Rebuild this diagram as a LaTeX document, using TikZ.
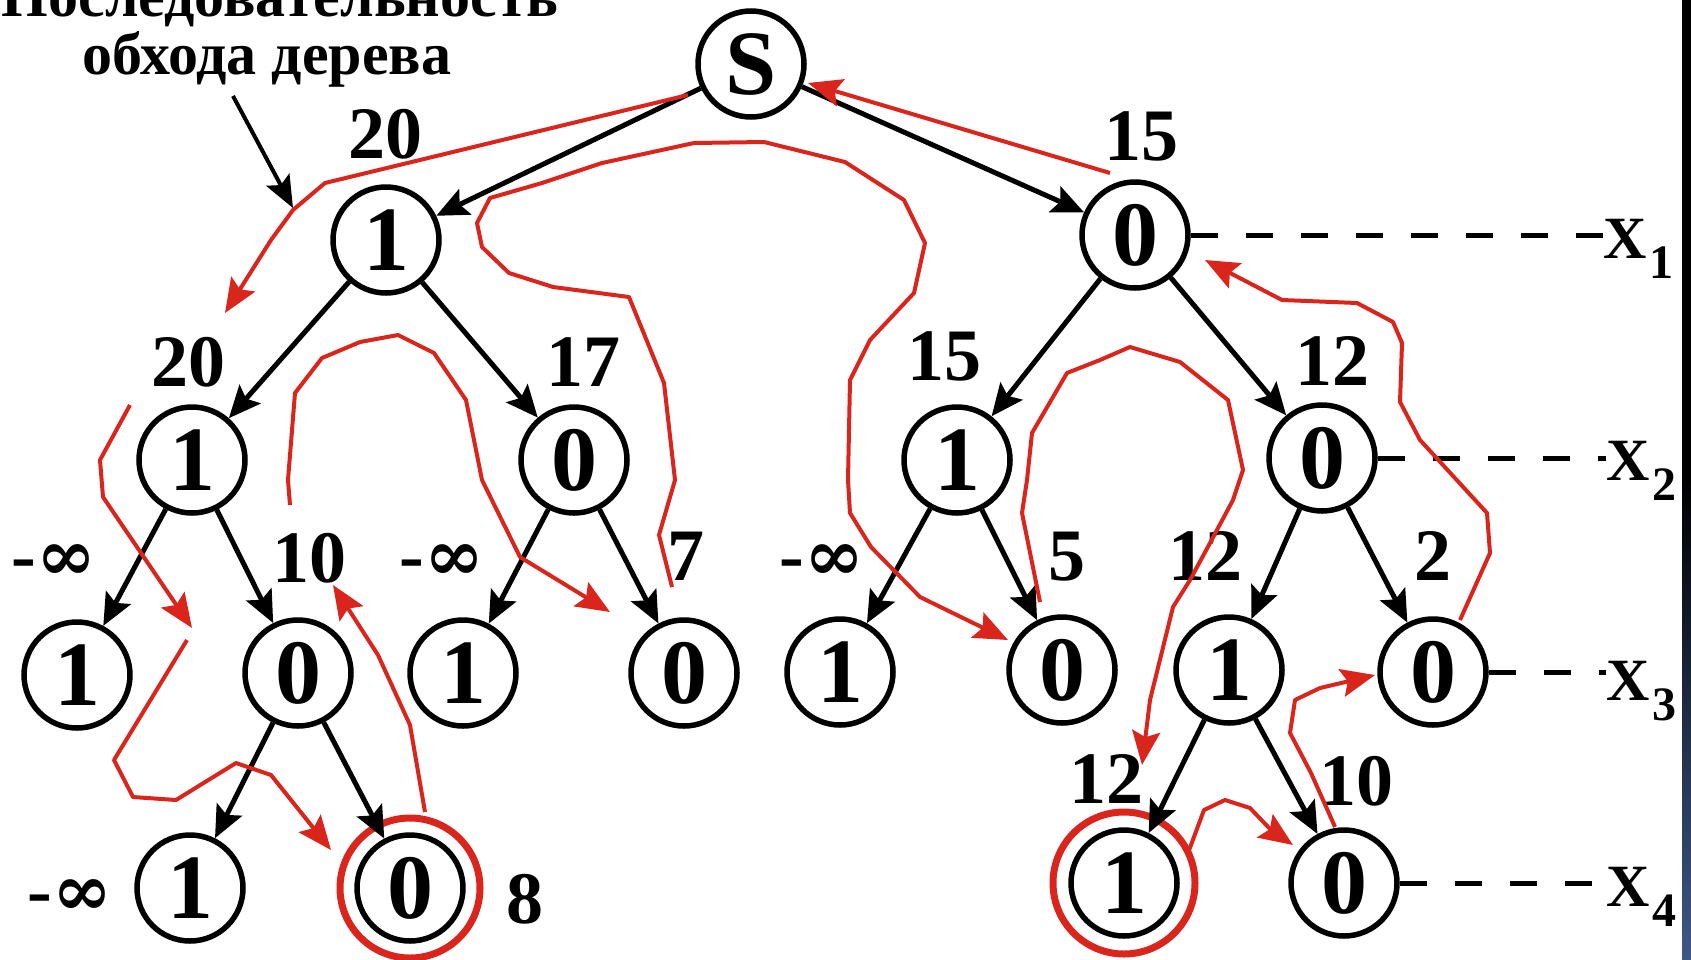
\documentclass[tikz,border=0pt]{standalone}
\usepackage{fontspec}
\setmainfont{Liberation Serif}
\newfontfamily\lemnfont{DejaVu Serif}
\usetikzlibrary{arrows.meta}

\definecolor{tracered}{RGB}{218,37,29}
\definecolor{barblue}{RGB}{62,88,135}

\newcommand{\minf}{-{\lemnfont\fontsize{72}{72}\selectfont ∞}}

\begin{document}
\begin{tikzpicture}[x=1pt, y=-1pt,
    vertex/.style={
        circle, draw,
        line width=5.5pt,
        minimum size=106pt,
        inner sep=0pt,
        font=\fontsize{92}{92}\selectfont\bfseries
    },
    branch/.style={
        line width=5pt,
        -{Stealth[length=32pt,width=28pt,inset=6pt]}
    },
    weight/.style={
        anchor=base,
        inner sep=0pt,
        font=\fontsize{74}{74}\selectfont\bfseries
    },
    trace/.style={
        draw=tracered,
        line width=4pt,
        line join=round,
        -{Stealth[length=34pt,width=28pt,inset=6pt]}
    },
    ring/.style={
        draw=tracered,
        line width=7pt
    },
    levelline/.style={
        line width=5pt,
        dash pattern=on 27pt off 28pt
    },
    varlabel/.style={
        anchor=base west,
        inner sep=0pt,
        font=\fontsize{60}{60}\selectfont\bfseries
    },
    caption/.style={
        anchor=base,
        inner sep=0pt,
        font=\fontsize{60}{60}\selectfont\bfseries
    },
    pointer/.style={
        line width=4pt,
        -{Stealth[length=32pt,width=26pt,inset=6pt]}
    }
]

%%%%%%%%%%%%%%%%%%%%%%%%
% Marco y barra lateral
%%%%%%%%%%%%%%%%%%%%%%%%
\useasboundingbox (0,0) rectangle (1691,959);
\clip (0,0) rectangle (1691,959);
\fill[black] (1682,0) rectangle (1691,480);
\shade[top color=black, bottom color=barblue] (1682,480) rectangle (1691,959);

%%%%%%%%%%%%%%%%%%%%%%%%
% Leyenda
%%%%%%%%%%%%%%%%%%%%%%%%
\node[caption] (cap1) at (280,16) {Последовательность};
\node[caption] (cap2) at (267,74) {обхода дерева};
\coordinate (ptr) at (293,208);
\draw[pointer] ([xshift=-34pt,yshift=-9pt]cap2.south) -- (ptr);

%%%%%%%%%%%%%%%%%%%%%%%%
% Nodos del arbol
%%%%%%%%%%%%%%%%%%%%%%%%

% --- Raiz ---
\node[vertex] (root) at (751,64) {S};

% --- Nivel 1 ---
\node[vertex] (l) at (386,240) {1};
\node[vertex] (r) at (1135,235) {0};

% --- Nivel 2 ---
\node[vertex] (ll) at (192,460) {1};
\node[vertex] (lr) at (574,460) {0};
\node[vertex] (rl) at (957,460) {1};
\node[vertex] (rr) at (1322,458) {0};

% --- Nivel 3 ---
\node[vertex] (lll) at (77,675) {1};
\node[vertex] (llr) at (298,673) {0};
\node[vertex] (lrl) at (463,673) {1};
\node[vertex] (lrr) at (684,673) {0};
\node[vertex] (rll) at (840,672) {1};
\node[vertex] (rlr) at (1062,670) {0};
\node[vertex] (rrl) at (1229,670) {1};
\node[vertex] (rrr) at (1433,672) {0};

% --- Nivel 4 ---
\node[vertex] (llrl) at (190,888) {1};
\node[vertex] (llrr) at (410,888) {0};
\node[vertex] (rrll) at (1124,883) {1};
\node[vertex] (rrlr) at (1344,883) {0};

% Soluciones encontradas
\draw[ring] (llrr) circle[radius=70pt];
\draw[ring] (rrll) circle[radius=71pt];

%%%%%%%%%%%%%%%%%%%%%%%%
% Ramas
%%%%%%%%%%%%%%%%%%%%%%%%
\draw[branch] (root) -- (l);
\draw[branch] (root) -- (r);
\draw[branch] (l) -- (ll);
\draw[branch] (l) -- (lr);
\draw[branch] (r) -- (rl);
\draw[branch] (r) -- (rr);
\draw[branch] (ll) -- (lll);
\draw[branch] (ll) -- (llr);
\draw[branch] (lr) -- (lrl);
\draw[branch] (lr) -- (lrr);
\draw[branch] (rl) -- (rll);
\draw[branch] (rl) -- (rlr);
\draw[branch] (rr) -- (rrl);
\draw[branch] (rr) -- (rrr);
\draw[branch] (llr) -- (llrl);
\draw[branch] (llr) -- (llrr);
\draw[branch] (rrl) -- (rrll);
\draw[branch] (rrl) -- (rrlr);

%%%%%%%%%%%%%%%%%%%%%%%%
% Cotas
%%%%%%%%%%%%%%%%%%%%%%%%
\node[weight] (w-l) at (385,158) {20};
\node[weight] (w-r) at (1141,160) {15};
\node[weight] (w-ll) at (188,386) {20};
\node[weight] (w-lr) at (583,386) {17};
\node[weight] (w-rl) at (944,380) {15};
\node[weight] (w-rr) at (1332,385) {12};
\node[weight] (w-lll) at (54,580) {\minf};
\node[weight] (w-llr) at (309,582) {10};
\node[weight] (w-lrl) at (442,580) {\minf};
\node[weight] (w-lrr) at (686,580) {7};
\node[weight] (w-rll) at (822,580) {\minf};
\node[weight] (w-rlr) at (1067,580) {5};
\node[weight] (w-rrl) at (1205,580) {12};
\node[weight] (w-rrr) at (1433,580) {2};
\node[weight] (w-llrl) at (70,915) {\minf};
\node[weight] (w-llrr) at (525,923) {8};
\node[weight] (w-rrll) at (1106,803) {12};
\node[weight] (w-rrlr) at (1356,805) {10};

%%%%%%%%%%%%%%%%%%%%%%%%
% Variables x1..x4
%%%%%%%%%%%%%%%%%%%%%%%%
\node[varlabel] (x1) at (1603,258) {X\kern3pt\lower20pt\hbox{\fontsize{48}{48}\selectfont 1}};
\node[varlabel] (x2) at (1606,480) {X\kern3pt\lower20pt\hbox{\fontsize{48}{48}\selectfont 2}};
\node[varlabel] (x3) at (1606,700) {X\kern3pt\lower20pt\hbox{\fontsize{48}{48}\selectfont 3}};
\node[varlabel] (x4) at (1606,906) {X\kern3pt\lower20pt\hbox{\fontsize{48}{48}\selectfont 4}};

\draw[levelline] (r.east) -- (r.east -| x1.west);
\draw[levelline] (rr.east) -- (rr.east -| x2.west);
\draw[levelline] (rrr.east) -- (rrr.east -| x3.west);
\draw[levelline] (rrlr.east) -- (rrlr.east -| x4.west);

%%%%%%%%%%%%%%%%%%%%%%%%
% Recorrido del arbol (rojo)
%%%%%%%%%%%%%%%%%%%%%%%%
\draw[trace] (688,95) -- (325,183) -- (293,210) -- (271,240) -- (225,313);
\draw[trace] (130,405) -- (100,460) -- (103,497) -- (192,628);
\draw[trace] (187,640) -- (114,760) -- (133,797) -- (176,800) -- (236,763)
    -- (271,775) -- (331,850);
\draw[trace] (425,812) -- (410,725) -- (378,655) -- (333,585);
\draw[trace] (290,505) -- (288,480) -- (295,393) -- (322,358) -- (360,342)
    -- (398,335) -- (434,353) -- (466,400) -- (482,480) -- (520,557) -- (610,612);
\draw[trace] (672,587) -- (659,535) -- (675,480) -- (664,383) -- (629,297)
    -- (553,287) -- (509,273) -- (482,247) -- (477,223) -- (490,198)
    -- (542,183) -- (602,163) -- (694,143) -- (764,142) -- (845,162)
    -- (904,200) -- (925,243) -- (914,293) -- (870,340) -- (850,380)
    -- (848,480) -- (850,513) -- (871,547) -- (920,597) -- (1008,640);
\draw[trace] (1040,602) -- (1022,513) -- (1027,480) -- (1032,433) -- (1067,373)
    -- (1100,360) -- (1130,347) -- (1180,362) -- (1228,400) -- (1243,470)
    -- (1233,500) -- (1210,543) -- (1190,580) -- (1173,607) -- (1150,700)
    -- (1142,765);
\draw[trace] (1188,853) -- (1204,810) -- (1225,800) -- (1250,808) -- (1271,830)
    -- (1293,845);
\draw[trace] (1335,827) -- (1311,773) -- (1290,733) -- (1295,700) -- (1320,688)
    -- (1375,675);
\draw[trace] (1460,620) -- (1490,553) -- (1487,513) -- (1420,440) -- (1400,402)
    -- (1402,343) -- (1393,322) -- (1357,303) -- (1282,300) -- (1205,260);
\draw[trace] (1110,173) -- (808,83);

\end{tikzpicture}
\end{document}
